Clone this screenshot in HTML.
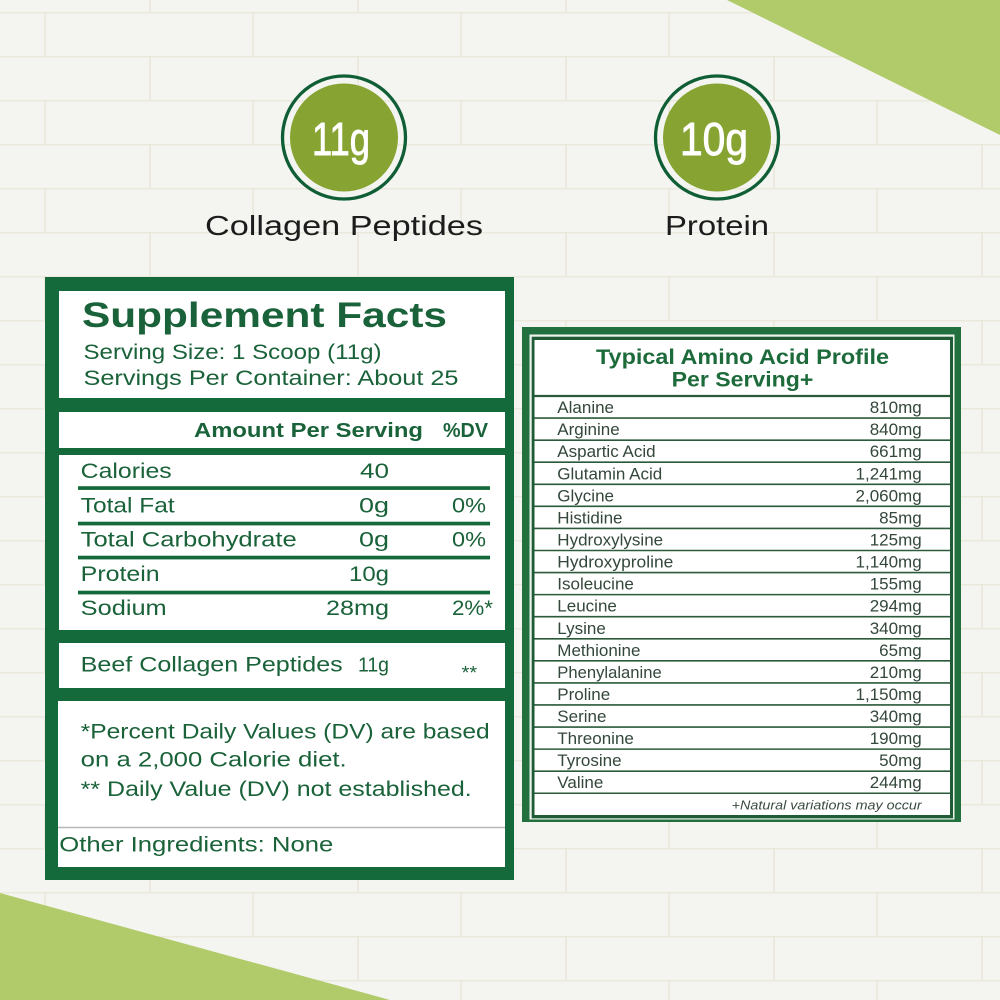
<!DOCTYPE html>
<html>
<head>
<meta charset="utf-8">
<style>
html,body{margin:0;padding:0;background:#f4f5f0;}
svg{display:block;}
text{font-family:"Liberation Sans",sans-serif;}
</style>
</head>
<body>
<svg width="1000" height="1000" viewBox="0 0 1000 1000" xmlns="http://www.w3.org/2000/svg">
<defs>
<pattern id="brick" patternUnits="userSpaceOnUse" x="0" y="12" width="208" height="88">
<rect width="208" height="88" fill="#f4f5f0"/>
<line x1="0" y1="0.75" x2="208" y2="0.75" stroke="#ebe9dd" stroke-width="1.5"/>
<line x1="0" y1="44.75" x2="208" y2="44.75" stroke="#ebe9dd" stroke-width="1.5"/>
<line x1="45" y1="0" x2="45" y2="44" stroke="#e9e6d8" stroke-width="1.5"/>
<line x1="150" y1="44" x2="150" y2="88" stroke="#e9e6d8" stroke-width="1.5"/>
</pattern>
</defs>
<rect width="1000" height="1000" fill="url(#brick)"/>

<!-- corner triangles -->
<polygon points="727,0 1000,0 1000,135" fill="#b1cb6b"/>
<polygon points="0,893 390,1000 0,1000" fill="#b1cb6b"/>

<!-- circles -->
<circle cx="344" cy="137.5" r="61.5" fill="none" stroke="#0f5e35" stroke-width="3.3"/>
<circle cx="344" cy="137.5" r="54" fill="#87a432"/>
<text x="341" y="155" font-size="46" fill="#ffffff" stroke="#ffffff" stroke-width="0.9" text-anchor="middle" textLength="58" lengthAdjust="spacingAndGlyphs">11g</text>

<circle cx="717" cy="137.5" r="61.5" fill="none" stroke="#0f5e35" stroke-width="3.3"/>
<circle cx="717" cy="137.5" r="54" fill="#87a432"/>
<text x="714" y="155" font-size="46" fill="#ffffff" stroke="#ffffff" stroke-width="0.9" text-anchor="middle" textLength="68" lengthAdjust="spacingAndGlyphs">10g</text>

<text x="205" y="235" font-size="28" fill="#1c1c1c" textLength="278" lengthAdjust="spacingAndGlyphs">Collagen Peptides</text>
<text x="665" y="235" font-size="28" fill="#1c1c1c" textLength="104" lengthAdjust="spacingAndGlyphs">Protein</text>

<!-- Supplement facts panel -->
<rect x="45" y="277" width="469" height="603" fill="#146a3b"/>
<rect x="59" y="291" width="446" height="107" fill="#ffffff"/>
<rect x="59" y="412" width="446" height="36" fill="#ffffff"/>
<rect x="59" y="455" width="446" height="175" fill="#ffffff"/>
<rect x="59" y="643" width="446" height="45" fill="#ffffff"/>
<rect x="58" y="701" width="447" height="166" fill="#ffffff"/>
<line x1="58" y1="827.5" x2="505" y2="827.5" stroke="#b5b8b5" stroke-width="1.5"/>

<g fill="#146a3b">
<rect x="78" y="486.2" width="412" height="3.7"/>
<rect x="78" y="521.7" width="412" height="3.7"/>
<rect x="78" y="555.7" width="412" height="3.7"/>
<rect x="78" y="590.7" width="412" height="3.7"/>
</g>

<g fill="#1a6239" font-size="21">
<text x="82" y="327" font-size="35" font-weight="bold" textLength="365" lengthAdjust="spacingAndGlyphs">Supplement Facts</text>
<text x="83.5" y="359" textLength="298" lengthAdjust="spacingAndGlyphs">Serving Size: 1 Scoop (11g)</text>
<text x="83.5" y="385" textLength="375" lengthAdjust="spacingAndGlyphs">Servings Per Container: About 25</text>

<text x="194" y="437" font-size="20" font-weight="bold" textLength="229" lengthAdjust="spacingAndGlyphs">Amount Per Serving</text>
<text x="443" y="437" font-size="20" font-weight="bold" textLength="45" lengthAdjust="spacingAndGlyphs">%DV</text>

<text x="80.7" y="478" textLength="91" lengthAdjust="spacingAndGlyphs">Calories</text>
<text x="389" y="478" text-anchor="end" textLength="29" lengthAdjust="spacingAndGlyphs">40</text>

<text x="80.7" y="512.3" textLength="94" lengthAdjust="spacingAndGlyphs">Total Fat</text>
<text x="389" y="512.3" text-anchor="end" textLength="30" lengthAdjust="spacingAndGlyphs">0g</text>
<text x="486" y="512.3" text-anchor="end" textLength="34" lengthAdjust="spacingAndGlyphs">0%</text>

<text x="80.7" y="546.7" textLength="216" lengthAdjust="spacingAndGlyphs">Total Carbohydrate</text>
<text x="389" y="546.7" text-anchor="end" textLength="30" lengthAdjust="spacingAndGlyphs">0g</text>
<text x="486" y="546.7" text-anchor="end" textLength="34" lengthAdjust="spacingAndGlyphs">0%</text>

<text x="80.7" y="581" textLength="79" lengthAdjust="spacingAndGlyphs">Protein</text>
<text x="389" y="581" text-anchor="end" textLength="40" lengthAdjust="spacingAndGlyphs">10g</text>

<text x="80.7" y="615" textLength="86" lengthAdjust="spacingAndGlyphs">Sodium</text>
<text x="389" y="615" text-anchor="end" textLength="63" lengthAdjust="spacingAndGlyphs">28mg</text>
<text x="493" y="615" text-anchor="end" textLength="41" lengthAdjust="spacingAndGlyphs">2%*</text>

<text x="80.7" y="671.7" textLength="262" lengthAdjust="spacingAndGlyphs">Beef Collagen Peptides</text>
<text x="389" y="671.7" font-size="20" text-anchor="end" textLength="31" lengthAdjust="spacingAndGlyphs">11g</text>
<text x="461.7" y="679" font-size="18" textLength="15.5" lengthAdjust="spacingAndGlyphs">**</text>

<text x="80.7" y="738.3" textLength="409" lengthAdjust="spacingAndGlyphs">*Percent Daily Values (DV) are based</text>
<text x="80.7" y="766.7" textLength="266" lengthAdjust="spacingAndGlyphs">on a 2,000 Calorie diet.</text>
<text x="80.7" y="796" textLength="391" lengthAdjust="spacingAndGlyphs">** Daily Value (DV) not established.</text>

<text x="59.3" y="851.7" textLength="274" lengthAdjust="spacingAndGlyphs">Other Ingredients: None</text>
</g>

<!-- Amino acid panel -->
<rect x="522" y="327" width="439" height="495" fill="#23703f"/>
<rect x="529.5" y="334.5" width="425" height="485" fill="#eef3ee"/>
<rect x="531.7" y="336.7" width="421.3" height="481.6" fill="#1f5c36"/>
<rect x="534.5" y="340" width="415.5" height="475" fill="#ffffff"/>

<text x="742.5" y="364" font-size="21" font-weight="bold" fill="#1d6a3b" text-anchor="middle" textLength="293" lengthAdjust="spacingAndGlyphs">Typical Amino Acid Profile</text>
<text x="742.5" y="386.7" font-size="21" font-weight="bold" fill="#1d6a3b" text-anchor="middle" textLength="141.7" lengthAdjust="spacingAndGlyphs">Per Serving+</text>

<g stroke="#2a5a3a" stroke-width="1.6">
<line x1="534.5" y1="396" x2="950" y2="396" stroke-width="2.3"/>
<line x1="534.5" y1="418.07" x2="950" y2="418.07"/>
<line x1="534.5" y1="440.14" x2="950" y2="440.14"/>
<line x1="534.5" y1="462.21" x2="950" y2="462.21"/>
<line x1="534.5" y1="484.28" x2="950" y2="484.28"/>
<line x1="534.5" y1="506.35" x2="950" y2="506.35"/>
<line x1="534.5" y1="528.42" x2="950" y2="528.42"/>
<line x1="534.5" y1="550.49" x2="950" y2="550.49"/>
<line x1="534.5" y1="572.56" x2="950" y2="572.56"/>
<line x1="534.5" y1="594.63" x2="950" y2="594.63"/>
<line x1="534.5" y1="616.7" x2="950" y2="616.7"/>
<line x1="534.5" y1="638.77" x2="950" y2="638.77"/>
<line x1="534.5" y1="660.84" x2="950" y2="660.84"/>
<line x1="534.5" y1="682.91" x2="950" y2="682.91"/>
<line x1="534.5" y1="704.98" x2="950" y2="704.98"/>
<line x1="534.5" y1="727.05" x2="950" y2="727.05"/>
<line x1="534.5" y1="749.12" x2="950" y2="749.12"/>
<line x1="534.5" y1="771.19" x2="950" y2="771.19"/>
<line x1="534.5" y1="793.26" x2="950" y2="793.26"/>
</g>

<g font-size="17" fill="#33473a">
<text x="557.3" y="413.1">Alanine</text><text x="921.7" y="413.1" text-anchor="end">810mg</text>
<text x="557.3" y="435.1">Arginine</text><text x="921.7" y="435.1" text-anchor="end">840mg</text>
<text x="557.3" y="457.2">Aspartic Acid</text><text x="921.7" y="457.2" text-anchor="end">661mg</text>
<text x="557.3" y="479.3">Glutamin Acid</text><text x="921.7" y="479.3" text-anchor="end">1,241mg</text>
<text x="557.3" y="501.3">Glycine</text><text x="921.7" y="501.3" text-anchor="end">2,060mg</text>
<text x="557.3" y="523.4">Histidine</text><text x="921.7" y="523.4" text-anchor="end">85mg</text>
<text x="557.3" y="545.5">Hydroxylysine</text><text x="921.7" y="545.5" text-anchor="end">125mg</text>
<text x="557.3" y="567.6" textLength="116" lengthAdjust="spacingAndGlyphs">Hydroxyproline</text><text x="921.7" y="567.6" text-anchor="end">1,140mg</text>
<text x="557.3" y="589.6">Isoleucine</text><text x="921.7" y="589.6" text-anchor="end">155mg</text>
<text x="557.3" y="611.7">Leucine</text><text x="921.7" y="611.7" text-anchor="end">294mg</text>
<text x="557.3" y="633.8">Lysine</text><text x="921.7" y="633.8" text-anchor="end">340mg</text>
<text x="557.3" y="655.8">Methionine</text><text x="921.7" y="655.8" text-anchor="end">65mg</text>
<text x="557.3" y="677.9" textLength="104.4" lengthAdjust="spacingAndGlyphs">Phenylalanine</text><text x="921.7" y="677.9" text-anchor="end">210mg</text>
<text x="557.3" y="700">Proline</text><text x="921.7" y="700" text-anchor="end">1,150mg</text>
<text x="557.3" y="722">Serine</text><text x="921.7" y="722" text-anchor="end">340mg</text>
<text x="557.3" y="744.1">Threonine</text><text x="921.7" y="744.1" text-anchor="end">190mg</text>
<text x="557.3" y="766.2">Tyrosine</text><text x="921.7" y="766.2" text-anchor="end">50mg</text>
<text x="557.3" y="788.2">Valine</text><text x="921.7" y="788.2" text-anchor="end">244mg</text>
</g>
<text x="921.7" y="809.5" font-size="13" font-style="italic" fill="#3a4a40" text-anchor="end" textLength="190" lengthAdjust="spacingAndGlyphs">+Natural variations may occur</text>
</svg>
</body>
</html>
